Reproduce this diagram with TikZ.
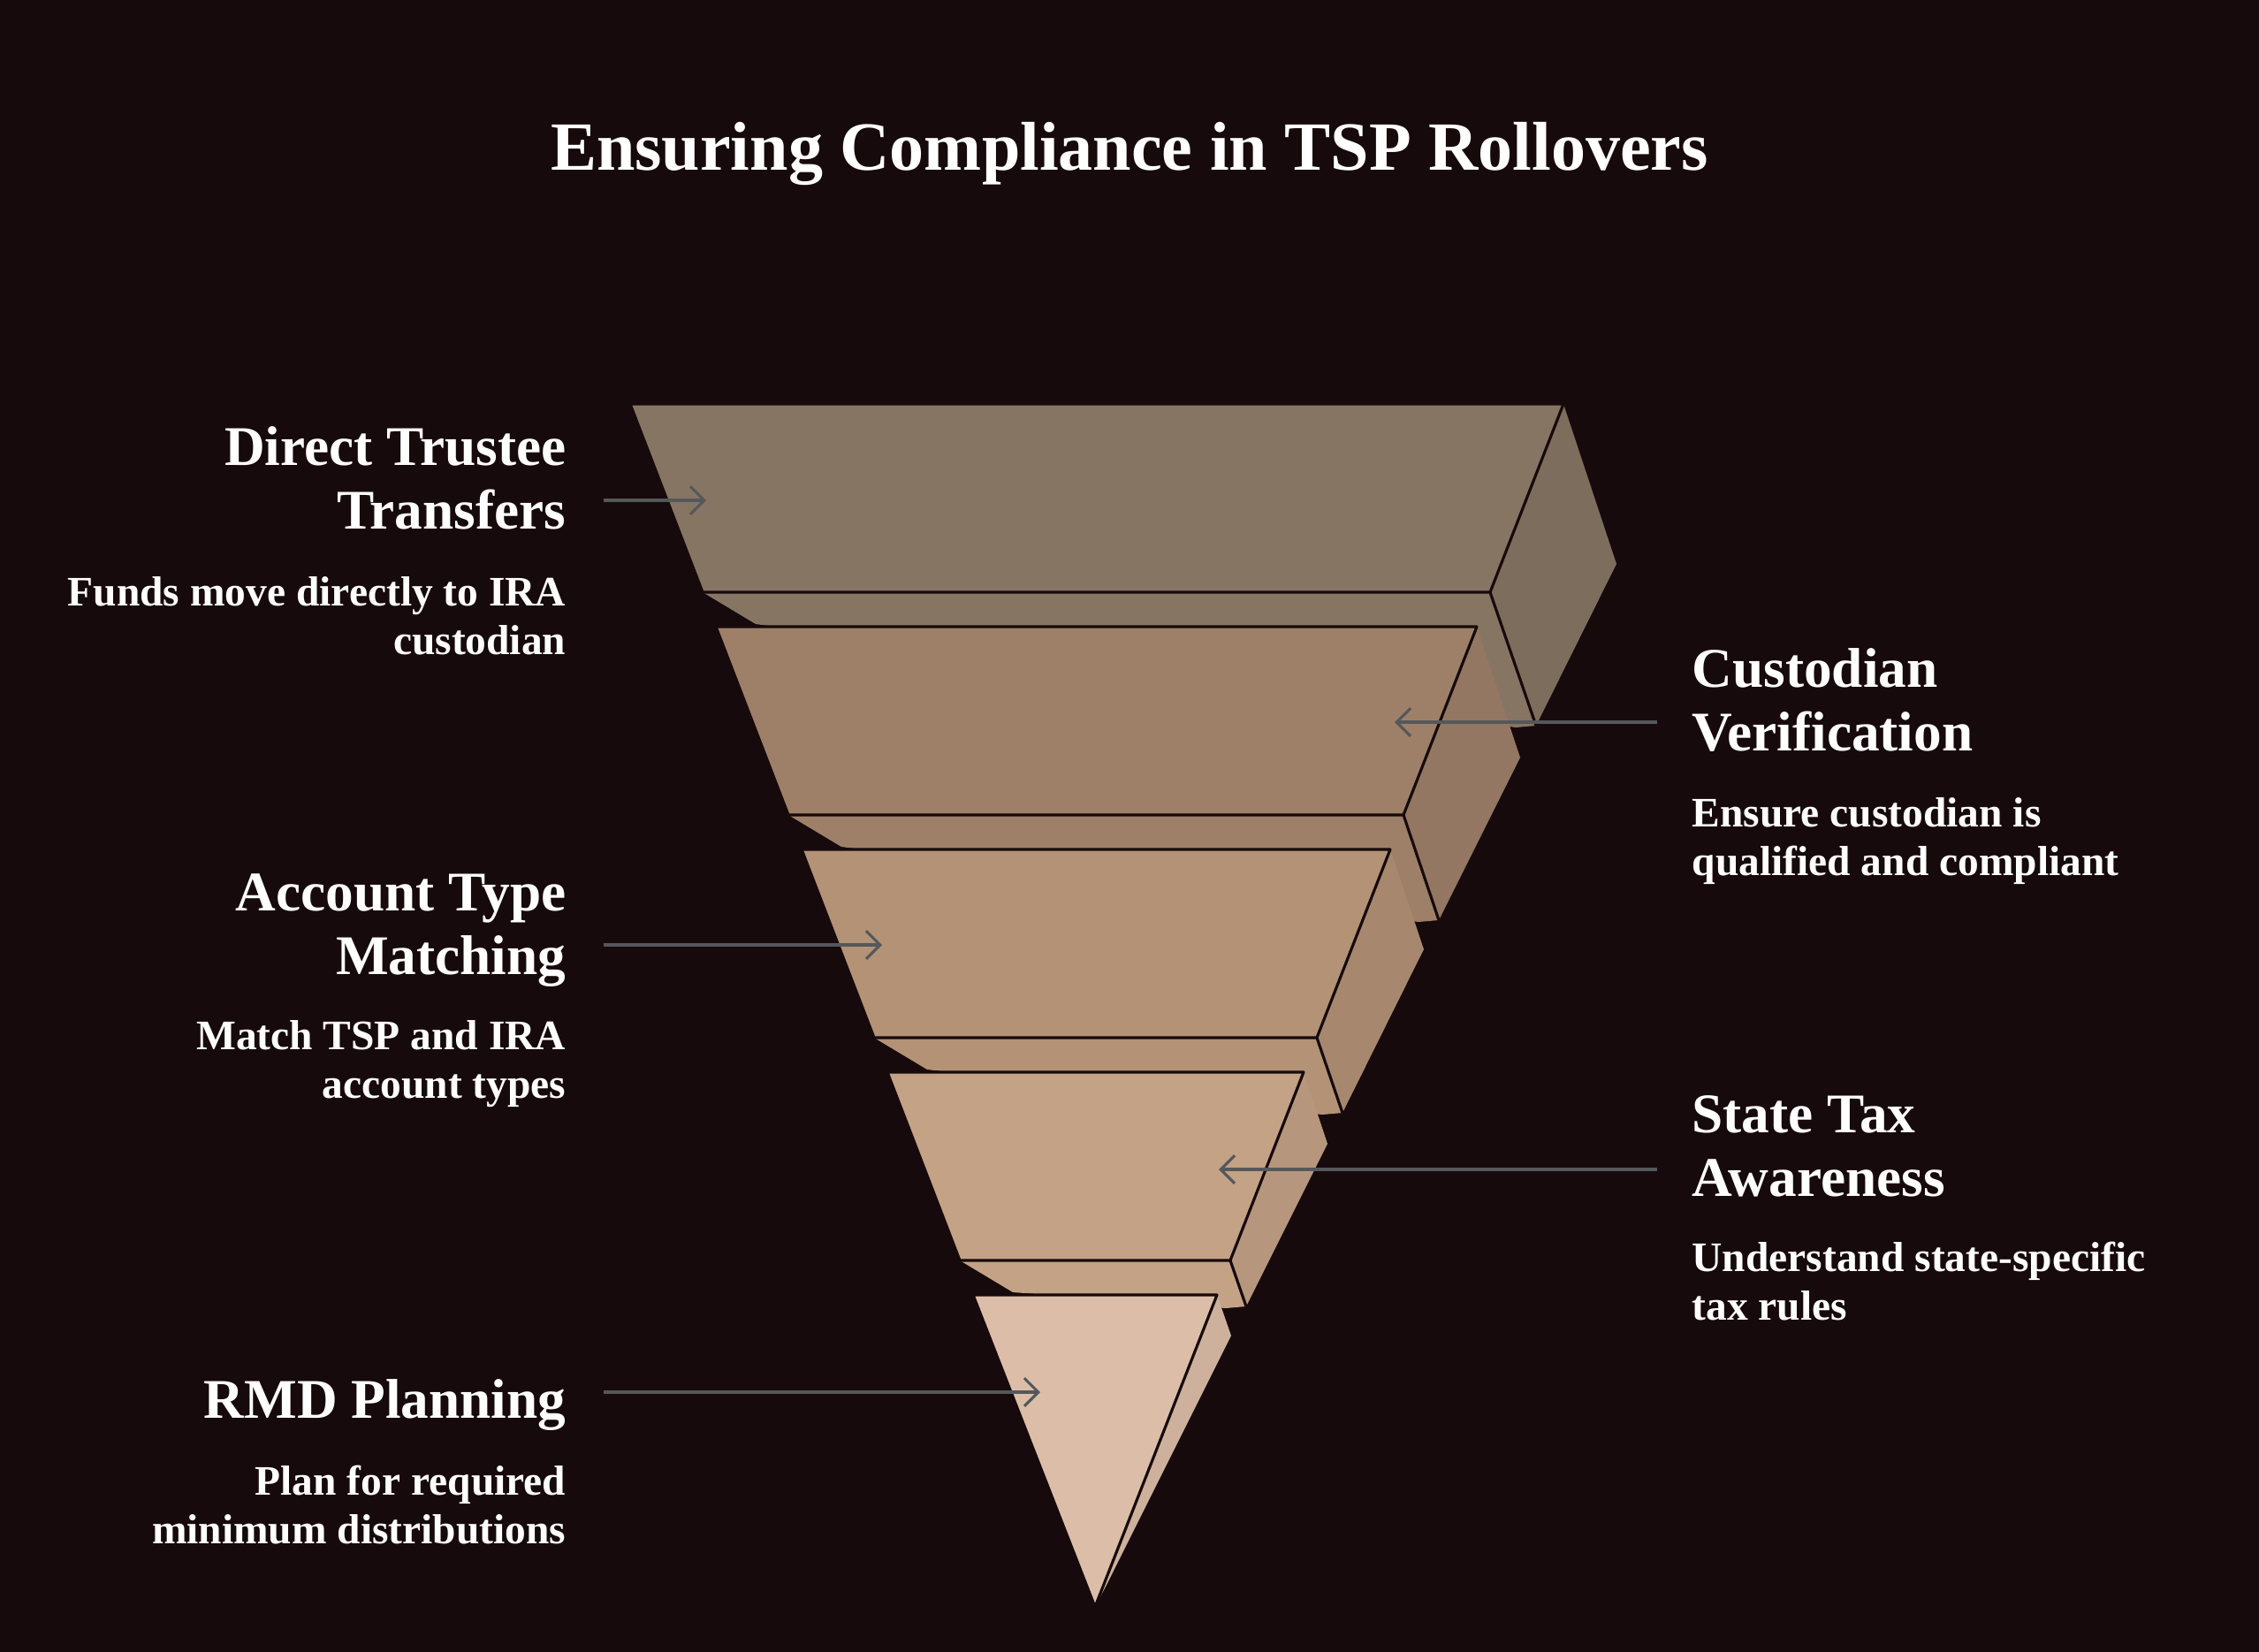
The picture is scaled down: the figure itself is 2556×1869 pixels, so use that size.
\documentclass[tikz,border=0pt]{standalone}
\usepackage{fontspec}
\setmainfont{Liberation Serif}
\usepackage{tikz}
\usetikzlibrary{arrows.meta,calc,positioning}

\definecolor{bg}{HTML}{170A0C}
\definecolor{edge}{HTML}{170A0C}
\definecolor{pointer}{HTML}{55585A}
\definecolor{slabA}{HTML}{877563}
\definecolor{slabB}{HTML}{9E8069}
\definecolor{slabC}{HTML}{B39276}
\definecolor{slabD}{HTML}{C4A286}
\definecolor{slabE}{HTML}{DCBEA8}

\tikzset{
  face/.style={line width=0.9pt,draw=edge,line join=round},
  arr/.style={-{Straight Barb[length=4.5pt,width=9pt]},draw=pointer,line width=0.9pt},
  heading/.style={text=white,inner sep=0pt,font=\bfseries\fontsize{18pt}{20.2pt}\selectfont},
  desc/.style={text=white,inner sep=0pt,font=\bfseries\fontsize{13.5pt}{15.4pt}\selectfont},
}

\begin{document}
\begin{tikzpicture}[x=0.01cm,y=-0.01cm]

  \fill[bg] (0,0) rectangle (2556,1869);
  \useasboundingbox (0,0) rectangle (2556,1869);

  \node[text=white,inner sep=0pt,anchor=base,font=\bfseries\fontsize{22.2pt}{26pt}\selectfont]
       (title) at (1278,192) {Ensuring Compliance in TSP Rollovers};

  % slab 1
  \fill[slabA] (795,670) -- (1686,670) -- (1738,821) -- (1715,823) -- (855,706) -- cycle;
  \fill[slabA!93!black] (1769,457) -- (1829,638) -- (1738,821) -- (1686,670) -- cycle;
  \draw[face,fill=slabA] (713,457) -- (1769,457) -- (1686,670) -- (795,670) -- cycle;
  \draw[face] (1686,670) -- (1738,821);

  % slab 2
  \fill[slabB] (892,922) -- (1588,922) -- (1628,1041) -- (1605,1043) -- (952,958) -- cycle;
  \fill[slabB!93!black] (1671,709) -- (1720,857) -- (1628,1041) -- (1588,922) -- cycle;
  \draw[face,fill=slabB] (810,709) -- (1671,709) -- (1588,922) -- (892,922) -- cycle;
  \draw[face] (1588,922) -- (1628,1041);

  % slab 3
  \fill[slabC] (989,1174) -- (1490,1174) -- (1519,1259) -- (1496,1261) -- (1049,1210) -- cycle;
  \fill[slabC!93!black] (1573,961) -- (1611,1074) -- (1519,1259) -- (1490,1174) -- cycle;
  \draw[face,fill=slabC] (907,961) -- (1573,961) -- (1490,1174) -- (989,1174) -- cycle;
  \draw[face] (1490,1174) -- (1519,1259);

  % slab 4
  \fill[slabD] (1086,1426) -- (1392,1426) -- (1410,1478) -- (1387,1480) -- (1146,1462) -- cycle;
  \fill[slabD!93!black] (1475,1213) -- (1502,1294) -- (1410,1478) -- (1392,1426) -- cycle;
  \draw[face,fill=slabD] (1004,1213) -- (1475,1213) -- (1392,1426) -- (1086,1426) -- cycle;
  \draw[face] (1392,1426) -- (1410,1478);

  % slab 5
  \fill[slabE!93!black] (1377,1465) -- (1393,1511) -- (1251,1795) -- (1239,1818) -- cycle;
  \draw[face,fill=slabE] (1101,1465) -- (1377,1465) -- (1239,1818) -- cycle;

  % targets on the slabs
  \coordinate (t1) at (799,566);
  \coordinate (t2) at (1578,817);
  \coordinate (t3) at (998,1069);
  \coordinate (t4) at (1379,1323);
  \coordinate (t5) at (1177,1575);

  % left side
  \node[heading,align=right,anchor=base east] (h1) at (641,598) {Direct Trustee\\Transfers};
  \node[desc,align=right,anchor=base east]    (d1) at (641,740) {Funds move directly to IRA\\custodian};
  \node[heading,align=right,anchor=base east] (h3) at (641,1102) {Account Type\\Matching};
  \node[desc,align=right,anchor=base east]    (d3) at (641,1242) {Match TSP and IRA\\account types};
  \node[heading,align=right,anchor=base east] (h5) at (641,1604) {RMD Planning};
  \node[desc,align=right,anchor=base east]    (d5) at (641,1746) {Plan for required\\minimum distributions};

  % right side
  \node[heading,align=left,anchor=base west] (h2) at (1914,849) {Custodian\\Verification};
  \node[desc,align=left,anchor=base west]    (d2) at (1914,990) {Ensure custodian is\\qualified and compliant};
  \node[heading,align=left,anchor=base west] (h4) at (1914,1353) {State Tax\\Awareness};
  \node[desc,align=left,anchor=base west]    (d4) at (1914,1493) {Understand state-specific\\tax rules};

  \draw[arr] (h1.east |- t1) ++(42,0) -- (t1);
  \draw[arr] (h3.east |- t3) ++(42,0) -- (t3);
  \draw[arr] (h5.east |- t5) ++(42,0) -- (t5);
  \draw[arr] (h2.west |- t2) ++(-39,0) -- (t2);
  \draw[arr] (h4.west |- t4) ++(-39,0) -- (t4);

\end{tikzpicture}
\end{document}
